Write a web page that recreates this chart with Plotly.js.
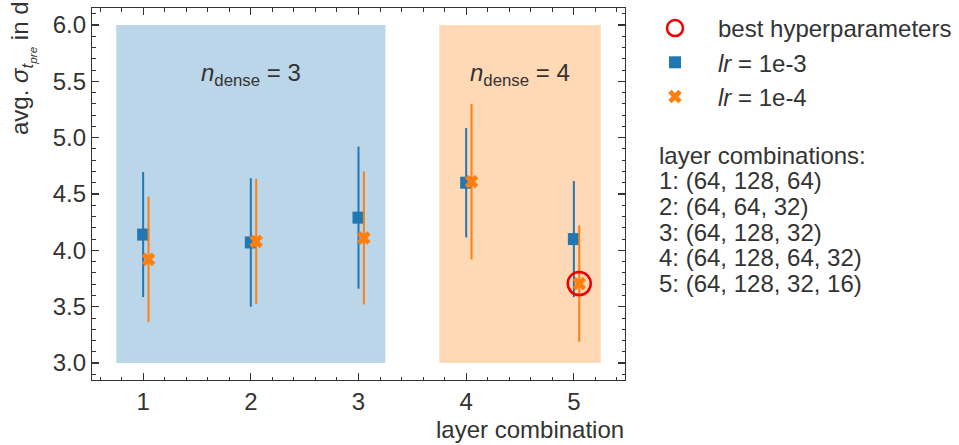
<!DOCTYPE html>
<html>
<head>
<meta charset="utf-8">
<script src="https://cdn.plot.ly/plotly-3.0.1.min.js"></script>
<style>html,body{margin:0;padding:0;background:#fff;}#chart{width:959px;height:445px;}</style>
</head>
<body>
<div id="chart"></div>
<script>
// ---- data ----
var combos = [1, 2, 3, 4, 5];
var lr3Mean = [4.14, 4.07, 4.29, 4.60, 4.10];
var lr3Err  = [0.555, 0.57, 0.63, 0.485, 0.515];
var lr4Mean = [3.92, 4.08, 4.11, 4.61, 3.705];
var lr4Err  = [0.555, 0.555, 0.59, 0.69, 0.515];
var lr4Offset = 0.05;
var bestIndex = 4; // combination 5, lr = 1e-4
var groupLabels = ["3", "4"];
var groupX0 = [0.75, 3.75];
var groupX1 = [3.25, 5.25];
var groupY0 = [3.0, 3.0];
var groupY1 = [6.0, 6.0];
var groupLabelX = [2.0, 4.5];
var groupLabelY = 5.56;
var comboTitle = "layer combinations:";
var comboLabels = ["1: (64, 128, 64)", "2: (64, 64, 32)", "3: (64, 128, 32)", "4: (64, 128, 64, 32)", "5: (64, 128, 32, 16)"];

var BLUE = "#1f77b4", ORANGE = "#ff7f0e", TXT = "#333333";
var FONT = "Liberation Sans, Arial, sans-serif";
var FS = 24;

var lr4X = combos.map(function (c) { return c + lr4Offset; });

var traces = [
  {
    x: combos, y: lr3Mean, type: "scatter", mode: "markers",
    name: "<i>lr</i> = 1e-3", legendrank: 2, legendgroup: "a",
    marker: {symbol: "square", size: 12, color: BLUE},
    error_y: {type: "data", array: lr3Err, visible: true, color: BLUE, thickness: 2, width: 0}
  },
  {
    x: lr4X, y: lr4Mean, type: "scatter", mode: "markers",
    name: "<i>lr</i> = 1e-4", legendrank: 3, legendgroup: "b",
    marker: {symbol: "x", size: 12, color: ORANGE},
    error_y: {type: "data", array: lr4Err, visible: true, color: ORANGE, thickness: 2, width: 0}
  },
  {
    x: [lr4X[bestIndex]], y: [lr4Mean[bestIndex]], type: "scatter", mode: "markers",
    name: "best hyperparameters", legendrank: 1, legendgroup: "c",
    marker: {symbol: "circle-open", size: 23, color: "#ee0000", line: {width: 2.5, color: "#ee0000"}}
  }
];

var shapes = [];
var groupColors = ["rgba(31,119,180,0.3)", "rgba(255,127,14,0.3)"];
for (var i = 0; i < groupX0.length; i++) {
  shapes.push({type: "rect", xref: "x", yref: "y", x0: groupX0[i], x1: groupX1[i], y0: groupY0[i], y1: groupY1[i],
    fillcolor: groupColors[i], line: {width: 0}, layer: "below"});
}

// plot area in px: top 8, bottom 380
function py(p) { return (380 - p) / 372; }
function px(p) { return (p - 92) / 533; }

var annotations = [];
for (var j = 0; j < groupLabels.length; j++) {
  annotations.push({xref: "x", yref: "y", x: groupLabelX[j], y: groupLabelY, showarrow: false,
    text: "<i>n</i><sub>dense</sub> = " + groupLabels[j], font: {family: FONT, size: FS, color: TXT}});
}
annotations.push({xref: "paper", yref: "paper", x: px(22), y: 1, yshift: 9, xanchor: "center", yanchor: "top",
  textangle: -90, showarrow: false,
  text: "avg. <i>σ</i><sub><i>t</i><sub><i>pre</i></sub></sub> in d", font: {family: FONT, size: FS, color: TXT}});
annotations.push({xref: "paper", yref: "paper", x: 1, xshift: 1, y: py(429), xanchor: "right", yanchor: "middle", showarrow: false,
  text: "layer combination", font: {family: FONT, size: FS, color: TXT}});
var blockLines = [comboTitle].concat(comboLabels);
for (var k = 0; k < blockLines.length; k++) {
  annotations.push({xref: "paper", yref: "paper", x: px(657), y: py(155 + k * 25.7), xanchor: "left", yanchor: "middle",
    showarrow: false, align: "left", text: blockLines[k], font: {family: FONT, size: FS, color: TXT}});
}

var axCommon = {
  showgrid: false, zeroline: false, showline: true, linecolor: TXT, linewidth: 1.2, mirror: "allticks",
  ticks: "inside", ticklen: 7, tickwidth: 1.2, tickcolor: TXT,
  tickfont: {family: FONT, size: FS, color: TXT}
};

var layout = {
  width: 959, height: 445,
  margin: {l: 92, r: 334, t: 8, b: 65, autoexpand: false},
  paper_bgcolor: "#fff", plot_bgcolor: "#fff",
  showlegend: true,
  legend: {x: px(632), xanchor: "left", y: py(6), yanchor: "top", font: {family: FONT, size: FS, color: TXT},
    tracegroupgap: 0, bgcolor: "rgba(0,0,0,0)", itemsizing: "trace", itemwidth: 76},
  xaxis: Object.assign({}, axCommon, {range: [0.525, 5.475], tickmode: "array", tickvals: combos, ticktext: combos.map(String),
    minor: {dtick: 0.2, tick0: 0, ticks: "inside", ticklen: 3.5, tickwidth: 1, tickcolor: TXT}}),
  yaxis: Object.assign({}, axCommon, {range: [2.85, 6.15], dtick: 0.5, tick0: 0, tickformat: ".1f",
    minor: {dtick: 0.1, tick0: 0, ticks: "inside", ticklen: 3.5, tickwidth: 1, tickcolor: TXT}}),
  shapes: shapes,
  annotations: annotations
};

Plotly.newPlot("chart", traces, layout, {displayModeBar: false, staticPlot: true});
</script>
</body>
</html>
